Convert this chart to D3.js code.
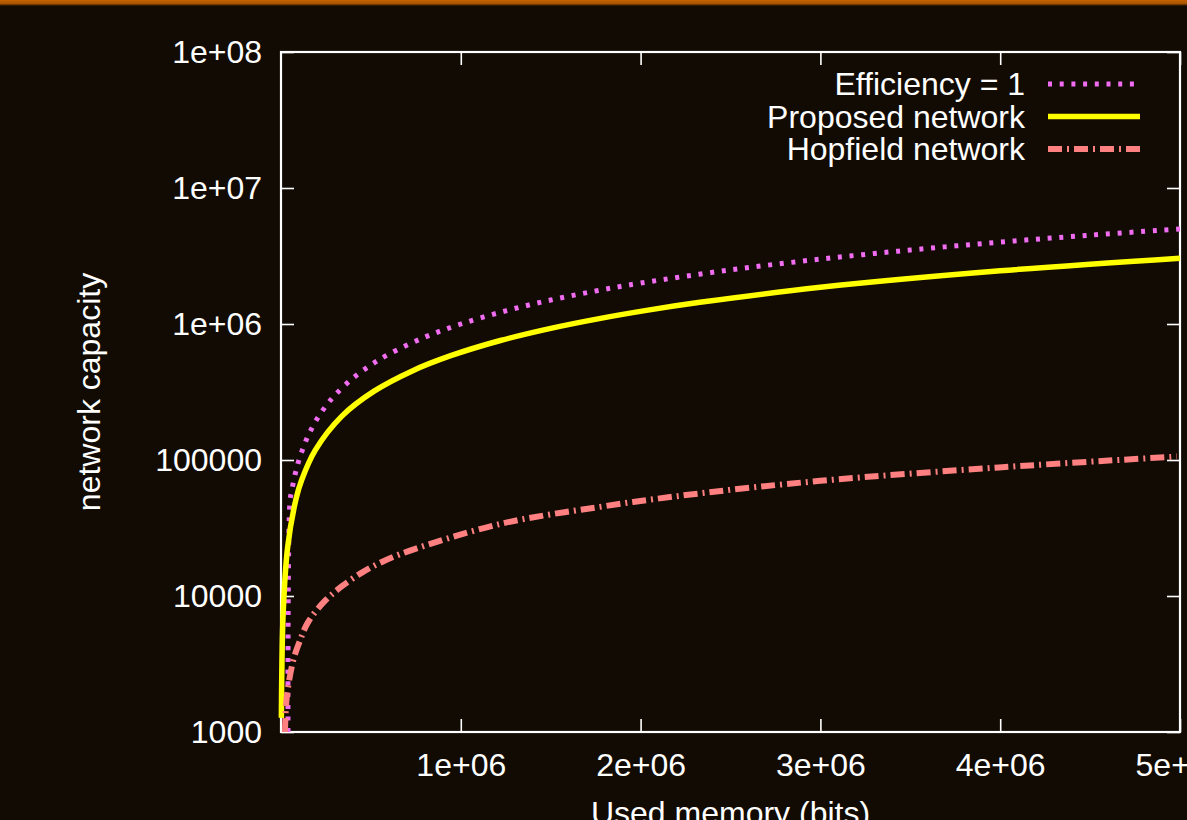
<!DOCTYPE html>
<html>
<head>
<meta charset="utf-8">
<script src="https://cdn.jsdelivr.net/npm/d3@7"></script>
<style>
  html, body { margin: 0; padding: 0; background: #120b03; overflow: hidden; }
  text { font-family: "Liberation Sans", Arial, sans-serif; fill: #ffffff; }
</style>
</head>
<body>
<div id="chart"></div>
<script>
// values
var memEff = [38900, 50000, 60000, 80000, 100000, 130000, 160000, 200000, 250000, 300000, 400000, 500000, 600000, 800000, 1000000, 1250000, 1500000, 1750000, 2000000, 2500000, 3000000, 3500000, 4000000, 4500000, 5000000];
var capEff = [1000, 50000, 60000, 80000, 100000, 130000, 160000, 200000, 250000, 300000, 400000, 500000, 600000, 800000, 1000000, 1250000, 1500000, 1750000, 2000000, 2500000, 3000000, 3500000, 4000000, 4500000, 5000000];

var memProp = [2000, 4000, 12000, 37000, 85000, 115000, 190000, 340000, 520000, 730000, 940000, 1220000, 1500000, 1770000, 2050000, 2330000, 3000000, 4000000, 5000000];
var capProp = [1270, 2450, 7450, 22900, 52700, 71300, 117800, 211000, 322000, 452000, 582000, 756000, 929000, 1096000, 1270000, 1443000, 1860000, 2460000, 3050000];

var memHop = [22200, 31700, 66700, 105600, 150000, 244000, 339000, 450000, 561000, 706000, 1217000, 1772000, 2328000, 3000000, 3994000, 4983000];
var capHop = [1000, 1780, 3300, 4700, 6400, 9200, 11800, 14850, 17800, 21300, 33800, 45200, 56800, 70300, 88200, 106000];

var xTicks = [1000000, 2000000, 3000000, 4000000, 5000000];
var xTickLabels = ["1e+06", "2e+06", "3e+06", "4e+06", "5e+06"];
var yTicks = [1000, 10000, 100000, 1000000, 10000000, 100000000];
var yTickLabels = ["1000", "10000", "100000", "1e+06", "1e+07", "1e+08"];

var seriesNames = ["Efficiency = 1", "Proposed network", "Hopfield network"];

var width = 1187;
var height = 820;
// window.top is reserved, so plot edges get their own names
var plotLeft = 281, plotRight = 1180, plotTop = 52, plotBottom = 732;
var fontSize = 32;

var svg = d3.select("#chart")
  .append("svg")
  .attr("width", width)
  .attr("height", height);

// background and the orange strip on top
var grad = svg.append("defs").append("linearGradient")
  .attr("id", "strip").attr("x1", 0).attr("y1", 0).attr("x2", 0).attr("y2", 1);
grad.append("stop").attr("offset", "0%").attr("stop-color", "#c46200");
grad.append("stop").attr("offset", "60%").attr("stop-color", "#a85400");
grad.append("stop").attr("offset", "100%").attr("stop-color", "#120b03");

svg.append("rect").attr("width", width).attr("height", height).attr("fill", "#120b03");
svg.append("rect").attr("width", width).attr("height", 6).attr("fill", "url(#strip)");

var xScale = d3.scaleLinear().domain([0, 5000000]).range([plotLeft, plotRight]);
var yScale = d3.scaleLog().domain([1000, 100000000]).range([plotBottom, plotTop]);

// axes, ticks pointing inward on all four sides
var xAxis = d3.axisBottom(xScale).tickValues(xTicks)
  .tickFormat(function(d, i) { return xTickLabels[i]; })
  .tickSizeInner(-13).tickSizeOuter(0).tickPadding(21);
var xAxisTop = d3.axisTop(xScale).tickValues(xTicks).tickFormat("")
  .tickSizeInner(-13).tickSizeOuter(0);
var yAxis = d3.axisLeft(yScale).tickValues(yTicks)
  .tickFormat(function(d, i) { return yTickLabels[i]; })
  .tickSizeInner(-13).tickSizeOuter(0).tickPadding(19);
var yAxisRight = d3.axisRight(yScale).tickValues(yTicks).tickFormat("")
  .tickSizeInner(-13).tickSizeOuter(0);

function styleAxis(g) {
  g.select(".domain").remove();
  g.selectAll(".tick line").attr("stroke", "#ffffff").attr("stroke-width", 1.6);
  g.selectAll(".tick text")
    .attr("fill", "#ffffff")
    .style("font-family", "'Liberation Sans', Arial, sans-serif")
    .style("font-size", fontSize + "px");
}

svg.append("g").attr("transform", "translate(0," + plotBottom + ")").call(xAxis).call(styleAxis);
svg.append("g").attr("transform", "translate(0," + plotTop + ")").call(xAxisTop).call(styleAxis);
svg.append("g").attr("transform", "translate(" + plotLeft + ",0)").call(yAxis).call(styleAxis);
svg.append("g").attr("transform", "translate(" + plotRight + ",0)").call(yAxisRight).call(styleAxis);

svg.append("rect")
  .attr("x", plotLeft).attr("y", plotTop)
  .attr("width", plotRight - plotLeft).attr("height", plotBottom - plotTop)
  .attr("fill", "none").attr("stroke", "#ffffff").attr("stroke-width", 2.2);

// axis titles
svg.append("text")
  .attr("transform", "translate(100," + ((plotTop + plotBottom) / 2) + ")rotate(-90)")
  .attr("text-anchor", "middle")
  .style("font-size", fontSize + "px")
  .text("network capacity");

svg.append("text")
  .attr("x", (plotLeft + plotRight) / 2)
  .attr("y", 824)
  .attr("text-anchor", "middle")
  .style("font-size", fontSize + "px")
  .text("Used memory (bits)");

// curves
var styles = [
  { color: "#f06cf0", width: 5, dash: "4 7.7" },
  { color: "#ffff00", width: 5.5, dash: null },
  { color: "#ff8080", width: 6, dash: "14 5 2 5" }
];
var mems = [memEff, memProp, memHop];
var caps = [capEff, capProp, capHop];

var line = d3.line()
  .x(function(d) { return xScale(d[0]); })
  .y(function(d) { return yScale(d[1]); })
  .curve(d3.curveCatmullRom.alpha(0.5));

for (var s = 0; s < 3; s++) {
  var pts = mems[s].map(function(m, i) { return [m, caps[s][i]]; });
  svg.append("path")
    .datum(pts)
    .attr("d", line)
    .attr("fill", "none")
    .attr("stroke", styles[s].color)
    .attr("stroke-width", styles[s].width)
    .attr("stroke-dasharray", styles[s].dash);
}

// legend
var legendY = [84, 116.5, 149];
for (var k = 0; k < 3; k++) {
  svg.append("text")
    .attr("x", 1025)
    .attr("y", legendY[k])
    .attr("dy", "0.35em")
    .attr("text-anchor", "end")
    .style("font-size", fontSize + "px")
    .text(seriesNames[k]);
  svg.append("line")
    .attr("x1", 1048).attr("x2", 1140)
    .attr("y1", legendY[k]).attr("y2", legendY[k])
    .attr("stroke", styles[k].color)
    .attr("stroke-width", styles[k].width)
    .attr("stroke-dasharray", styles[k].dash);
}
</script>
</body>
</html>
